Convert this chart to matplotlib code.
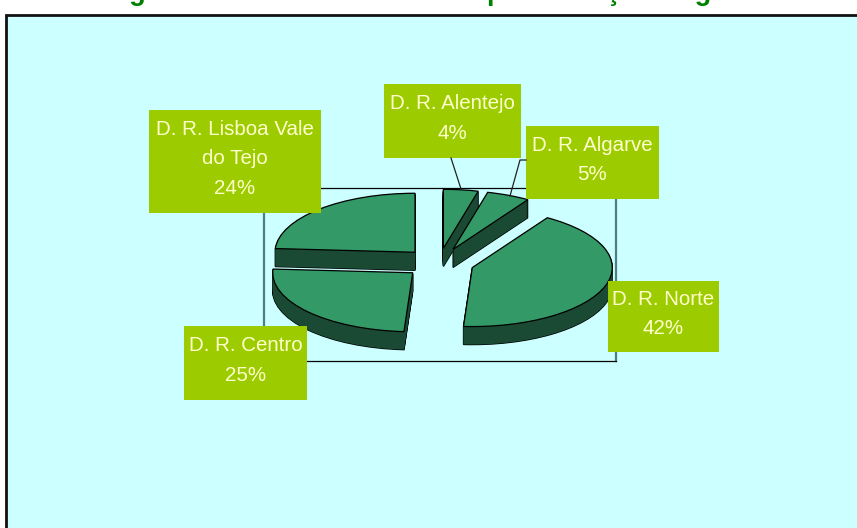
import matplotlib
matplotlib.use('Agg')
from matplotlib import pyplot as plt
from matplotlib.patches import Rectangle

plt.rcParams['font.family'] = ['Liberation Sans', 'DejaVu Sans']

# fatias pela ordem do grafico, a partir do topo no sentido dos ponteiros
names = ['D. R. Alentejo', 'D. R. Algarve', 'D. R. Norte', 'D. R. Centro', 'D. R. Lisboa Vale\ndo Tejo']
values = [4, 5, 42, 25, 24]
title = 'Figura 6 - Nº de Nascimentos por Direcção Regional'

W = 857; H = 528
fig = plt.figure(figsize=(W/100, H/100), dpi=100, facecolor='white')

# eixo em pixeis para o fundo
bg = fig.add_axes([0, 0, 1, 1], zorder=1)
bg.set_xlim(0, W); bg.set_ylim(H, 0); bg.axis('off')
bg.add_patch(Rectangle((6, 14.5), W, H, facecolor='#CCFFFF', edgecolor='#111111', lw=2))
bg.plot([264, 264], [188, 361], color='#4F7F80', lw=1.6)
bg.plot([616, 616], [188, 361], color='#4F7F80', lw=1.6)
bg.plot([264, 616], [188, 188], color='black', lw=0.9)
bg.plot([264, 616], [361, 361], color='black', lw=0.9)
bg.text(440, 0.5, title, ha='center', va='baseline', color='#008000', fontsize=19.5, fontweight='bold')

# eixo da tarte, achatado para dar a perspetiva
cx = 439; cy = 263; rx = 140; ry = 59; depth = 18
ax = fig.add_axes([0, 0, 1, 1], zorder=2)
ax.patch.set_alpha(0)
explode = [0.25]*len(values)

def draw_pie(dy, fc, ec, lw):
    ax.pie(values, explode=explode, startangle=90, counterclock=False, center=(0, -dy/ry),
           wedgeprops=dict(facecolor=fc, edgecolor=ec, linewidth=lw))

for d in range(depth, 0, -1):
    draw_pie(d, 'black', 'black', 1.0)
for d in range(depth, 0, -1):
    draw_pie(d, '#1A4A33', 'none', 0)
draw_pie(0, '#339966', 'black', 0.9)
ax.set_aspect('auto')
ax.set_xlim(-cx/rx, (W-cx)/rx)
ax.set_ylim((cy-H)/ry, cy/ry)
ax.axis('off')

# rotulos por cima da tarte
top = fig.add_axes([0, 0, 1, 1], zorder=3)
top.set_xlim(0, W); top.set_ylim(H, 0); top.axis('off')
top.patch.set_alpha(0)
top.plot([451, 461], [158, 189], color='#222222', lw=0.9)
top.plot([526, 520, 510], [160, 160, 196], color='#222222', lw=0.9)
boxes = [(384, 84, 137, 74), (526, 126, 133, 73), (608, 281, 111, 71), (184, 326, 123, 74), (149, 110, 172, 103)]
for name, v, (x, y, w, h) in zip(names, values, boxes):
    top.add_patch(Rectangle((x, y), w, h, facecolor='#9CCC00', edgecolor='none'))
    top.text(x+w/2, y+h/2-2.5, f'{name}\n{v}%', ha='center', va='center', color='#FFFFCC',
             fontsize=14.8, linespacing=1.68)

fig.savefig('out.png', dpi=100)
